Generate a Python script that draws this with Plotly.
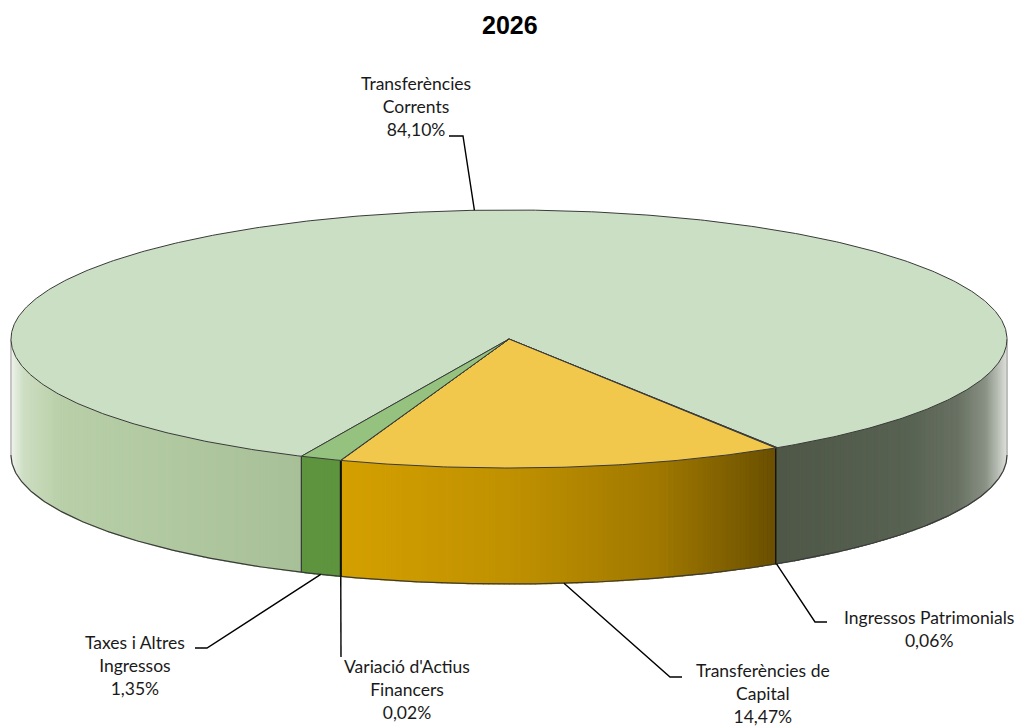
import numpy as np
import plotly.graph_objects as go

# ---------------- data ----------------
categories = ["Ingressos Patrimonials", "Transferències de Capital",
              "Variació d'Actius Financers", "Taxes i Altres Ingressos",
              "Transferències Corrents"]
values = [0.06, 14.47, 0.02, 1.35, 84.10]
value_labels = ["0,06%", "14,47%", "0,02%", "1,35%", "84,10%"]
label_lines = [["Ingressos Patrimonials"], ["Transferències de", "Capital"],
               ["Variació d'Actius", "Financers"], ["Taxes i Altres", "Ingressos"],
               ["Transferències", "Corrents"]]
title = "2026"

# ---------------- style / geometry ----------------
W, H = 1025, 726
CX, CY, RX, RY, DEPTH = 509, 339, 498, 129, 116
START = 57.4  # rotation of first slice (deg, screen-clockwise from 3 o'clock)

top_colors = ["#5F6F50", "#F2C84C", "#6E6E6E", "#95C27E", "#CADFC4"]
side_stops = [
    [(0.0, (70, 80, 62)), (1.0, (70, 80, 62))],
    [(0.0, (212, 160, 0)), (0.33, (212, 160, 0)), (0.5, (192, 145, 0)),
     (0.65, (160, 120, 0)), (0.77, (104, 78, 0)), (1.0, (104, 78, 0))],
    [(0.0, (40, 40, 30)), (1.0, (40, 40, 30))],
    [(0.0, (94, 148, 62)), (1.0, (94, 148, 62))],
    [(0.0, (238, 242, 235)), (0.012, (205, 222, 194)), (0.05, (184, 207, 168)),
     (0.29, (168, 192, 152)), (0.77, (79, 88, 71)), (0.9, (88, 98, 82)),
     (0.95, (104, 113, 98)), (0.978, (138, 146, 133)), (0.993, (195, 200, 192)),
     (1.0, (225, 228, 222))],
]
# label placement: (elbow x, elbow y, end x, text centre x, text centre y)
label_pos = [
    (815, 622, 827, 929, 629),
    (670, 677, 682, 763, 693),
    (341, 657, 341, 407, 689),
    (207, 648, 195, 135, 665),
    (463, 136, 449, 416, 106),
]
EDGE = "#3a3a3a"
FONT = "Lato, 'Open Sans', sans-serif"
LABEL_SIZE = 17.5


def pt(t, dz=0.0):
    r = np.radians(t)
    return CX + RX * np.cos(r), CY + RY * np.sin(r) + dz


def ramp(stops, u):
    for (u0, c0), (u1, c1) in zip(stops[:-1], stops[1:]):
        if u0 <= u <= u1:
            f = 0 if u1 == u0 else (u - u0) / (u1 - u0)
            return tuple(int(round(a + (b - a) * f)) for a, b in zip(c0, c1))
    return stops[-1][1] if u > stops[-1][0] else stops[0][1]


total = sum(values)
bounds = [START]
for v in values:
    bounds.append(bounds[-1] + 360.0 * v / total)

fig = go.Figure()

def poly(xs, ys, fill, line_color=None, lw=0):
    fig.add_trace(go.Scatter(
        x=list(xs) + [xs[0]], y=list(ys) + [ys[0]], mode="lines", fill="toself",
        fillcolor=fill, line=dict(color=line_color or fill, width=lw),
        hoverinfo="skip", showlegend=False))

def line(xs, ys, color=EDGE, lw=1):
    fig.add_trace(go.Scatter(x=xs, y=ys, mode="lines",
                             line=dict(color=color, width=lw),
                             hoverinfo="skip", showlegend=False))

# ---- side walls (front half only: 0..180 deg) ----
boundary_angles = []
for i in range(len(values)):
    a, b = bounds[i], bounds[i + 1]
    for k in (0, 1):
        lo, hi = max(a, 360 * k), min(b, 360 * k + 180)
        if hi <= lo:
            continue
        n = max(1, int(np.ceil((hi - lo) / 0.6)))
        edges = np.linspace(lo, hi, n + 1)
        for j in range(n):
            t0, t1 = edges[j], edges[j + 1]
            ts = np.linspace(t0, t1, 3)
            xt, yt = pt(ts)
            xb, yb = pt(ts[::-1], DEPTH)
            xm, _ = pt((t0 + t1) / 2)
            u = (xm - (CX - RX)) / (2 * RX)
            c = "rgb(%d,%d,%d)" % ramp(side_stops[i], u)
            poly(np.r_[xt, xb], np.r_[yt, yb], c, c, 1.2)
    boundary_angles.append(b)

# outlines of the side
ts = np.linspace(0, 180, 400)
xb, yb = pt(ts, DEPTH)
line(list(xb), list(yb), EDGE, 1.2)
for t in (0, 180):
    x0, y0 = pt(t)
    line([x0, x0], [y0, y0 + DEPTH], "#9a9a9a", 1)
for i, b in enumerate(boundary_angles[:-1]):
    tb = b % 360
    if 0 < tb < 180:
        x0, y0 = pt(tb)
        col = "#111111" if i in (0, 1, 2) else EDGE
        line([x0, x0], [y0, y0 + DEPTH], col, 1.3)

# ---- top faces ----
order = [4, 0, 1, 2, 3]
for i in order:
    a, b = bounds[i], bounds[i + 1]
    ts = np.linspace(a, b, max(3, int((b - a) * 2)))
    xs, ys = pt(ts)
    poly(np.r_[CX, xs], np.r_[CY, ys], top_colors[i], EDGE, 1)

# ---- leader lines and labels ----
annotations = []
for i in range(len(values)):
    mid = (bounds[i] + bounds[i + 1]) / 2
    tm = mid % 360
    if np.sin(np.radians(tm)) > 0:
        ax_, ay_ = pt(tm, DEPTH)
    else:
        ax_, ay_ = pt(tm)
    ex, ey, endx, tx, ty = label_pos[i]
    line([ax_, ex, endx], [ay_, ey, ey], "#000000", 1.4)
    annotations.append(dict(
        x=tx, y=ty, xref="x", yref="y", showarrow=False,
        text="<br>".join(label_lines[i] + [value_labels[i]]),
        font=dict(family=FONT, size=LABEL_SIZE, color="#1a1a1a"),
        xanchor="center", yanchor="middle", align="center"))

annotations.append(dict(
    x=510, y=25, xref="x", yref="y", showarrow=False, text="<b>%s</b>" % title,
    font=dict(family="Arial, 'Liberation Sans', sans-serif", size=25, color="#000000"),
    xanchor="center", yanchor="middle"))

fig.update_layout(
    width=W, height=H, margin=dict(l=0, r=0, t=0, b=0),
    paper_bgcolor="white", plot_bgcolor="white",
    xaxis=dict(range=[0, W], visible=False, fixedrange=True),
    yaxis=dict(range=[H, 0], visible=False, fixedrange=True),
    annotations=annotations, showlegend=False)

fig.write_html("out.html",
               config={"displayModeBar": False},
               post_script="document.body.style.margin='0';"
                           "document.body.style.overflow='hidden';")
